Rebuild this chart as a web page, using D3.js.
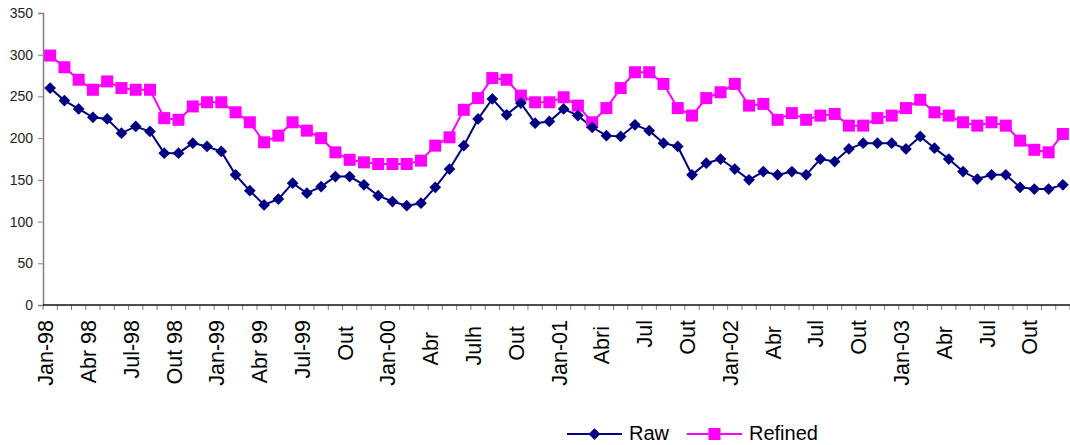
<!DOCTYPE html>
<html>
<head>
<meta charset="utf-8">
<script src="https://cdn.jsdelivr.net/npm/d3@7"></script>
<style>
  html, body { margin: 0; padding: 0; background: #fff; }
  svg { display: block; font-family: "Liberation Sans", Arial, sans-serif; }
  .xlab { white-space: pre; }
</style>
</head>
<body>
<svg id="chart" width="1070" height="445"></svg>
<script>
// Monthly series, Jan 1998 – Dec 2003
const rawValues = [260,245,235,225,223,206,214,208,182,182,194,190,184,156,137,120,127,146,134,142,
  154,154,144,131,124,119,122,141,163,191,223,247,228,242,218,220,235,227,213,203,
  202,216,209,194,190,156,170,175,163,150,160,156,160,156,175,172,187,194,194,194,
  187,202,188,175,160,151,156,156,141,139,139,144];
const refinedValues = [299,285,270,258,268,260,258,258,224,222,238,243,243,231,219,195,203,219,209,200,
  183,174,171,169,169,169,173,191,201,234,248,272,270,251,243,243,249,239,219,236,
  260,279,279,265,236,227,248,255,265,239,241,222,230,222,227,229,215,215,224,227,
  236,246,231,227,219,215,219,215,197,186,183,205];
// Quarterly axis labels (one every third month)
const quarterLabels = ["Jan-98","Abr 98","Jul-98","Out 98","Jan-99","Abr 99","Jul-99","Out ",
  "Jan-00","Abr  ","Julh ","Out ","Jan-01","Abri ","Jul","Out","Jan-02","Abr ","Jul","Out",
  "Jan-03","Abr ","Jul","Out"];
const yTicks = [0,50,100,150,200,250,300,350];
const seriesNames = ["Raw", "Refined"];

const svg = d3.select("#chart");
const plotLeft = 43, plotRight = 1070, plotTop = 13, plotBottom = 305;

const months = d3.range(rawValues.length);
const x = d3.scaleBand().domain(months).range([plotLeft, plotRight]).padding(0);
const y = d3.scaleLinear().domain([0, 350]).range([plotBottom, plotTop]);
const cx = i => x(i) + x.bandwidth() / 2;

// Y axis
const yAxis = svg.append("g").attr("transform", `translate(${plotLeft},0)`)
  .call(d3.axisLeft(y).tickValues(yTicks).tickSize(5).tickPadding(5));
yAxis.select(".domain").attr("stroke", "#808080").attr("stroke-width", 1.5);
yAxis.selectAll(".tick line").attr("stroke", "#808080");
yAxis.selectAll(".tick text").attr("font-size", 14).attr("fill", "#222")
  .attr("font-family", "Liberation Sans, Arial, sans-serif");

// X axis: ticks at month boundaries
const xg = svg.append("g");
xg.selectAll("line.tk").data(d3.range(rawValues.length + 1)).join("line")
  .attr("x1", i => i < rawValues.length ? x(i) : plotRight)
  .attr("x2", i => i < rawValues.length ? x(i) : plotRight)
  .attr("y1", plotBottom).attr("y2", plotBottom + 5)
  .attr("stroke", "#808080").attr("stroke-width", 1);
xg.append("line").attr("x1", plotLeft).attr("x2", plotRight).attr("y1", plotBottom).attr("y2", plotBottom)
  .attr("stroke", "#111").attr("stroke-width", 1.5);

xg.selectAll("text.xlab").data(quarterLabels).join("text")
  .attr("class", "xlab")
  .attr("transform", (d, k) => `translate(${cx(k * 3) + 3},320) rotate(-90)`)
  .attr("text-anchor", "end")
  .attr("font-size", 21.5)
  .attr("fill", "#000")
  .text(d => d);

// Series lines
const line = d3.line().x((d, i) => cx(i)).y(d => y(d));
svg.append("path").datum(refinedValues).attr("d", line)
  .attr("fill", "none").attr("stroke", "#FF00FF").attr("stroke-width", 2);
svg.append("path").datum(rawValues).attr("d", line)
  .attr("fill", "none").attr("stroke", "#000080").attr("stroke-width", 2);

const sq = d3.symbol().type(d3.symbolSquare).size(144);
const dm = d3.symbol().type(d3.symbolDiamond2).size(88);

svg.append("g").selectAll("path").data(refinedValues).join("path")
  .attr("transform", (d, i) => `translate(${cx(i)},${y(d)})`)
  .attr("d", sq).attr("fill", "#FF00FF");
svg.append("g").selectAll("path").data(rawValues).join("path")
  .attr("transform", (d, i) => `translate(${cx(i)},${y(d)})`)
  .attr("d", dm).attr("fill", "#000080");

// Legend
const legend = svg.append("g");
const legendItems = [
  { name: seriesNames[0], color: "#000080", sym: dm, x0: 567 },
  { name: seriesNames[1], color: "#FF00FF", sym: sq, x0: 687 }
];
legendItems.forEach(it => {
  legend.append("line").attr("x1", it.x0).attr("x2", it.x0 + 55)
    .attr("y1", 434).attr("y2", 434).attr("stroke", it.color).attr("stroke-width", 2);
  legend.append("path").attr("transform", `translate(${it.x0 + 27.5},434)`)
    .attr("d", it.sym).attr("fill", it.color);
  legend.append("text").attr("x", it.x0 + 62).attr("y", 440)
    .attr("font-size", 20).attr("fill", "#000").text(it.name);
});
</script>
</body>
</html>
